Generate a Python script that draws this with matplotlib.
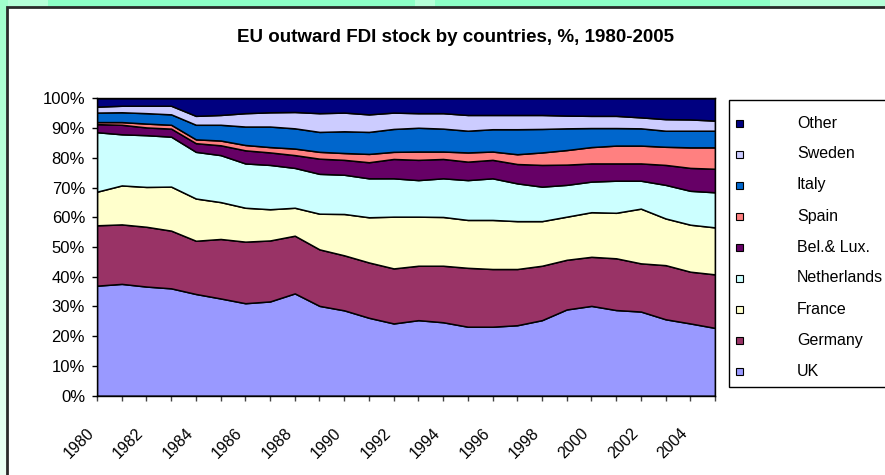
import numpy as np
import matplotlib
matplotlib.use("Agg")
import matplotlib.pyplot as plt
from matplotlib.patches import Rectangle

plt.rcParams["font.family"] = ["Liberation Sans", "DejaVu Sans"]

# --- Datos (% del stock de IED saliente de la UE) ---
years = list(range(1980, 2006))
uk = [37.0, 37.6, 36.7, 36.1, 34.2, 32.7, 31.1, 31.7, 34.4, 30.2, 28.7, 26.2, 24.3,
      25.4, 24.7, 23.2, 23.2, 23.7, 25.4, 29.0, 30.2, 28.8, 28.3, 25.7, 24.3, 22.8]
germany = [20.3, 20.0, 20.1, 19.4, 17.9, 20.0, 20.7, 20.5, 19.4, 19.0, 18.5, 18.6, 18.5,
           18.3, 19.0, 19.8, 19.4, 18.9, 18.3, 16.7, 16.5, 17.4, 16.2, 18.2, 17.4, 18.0]
france = [11.3, 13.1, 13.4, 14.8, 14.2, 12.4, 11.4, 10.5, 9.4, 12.0, 13.9, 15.2, 17.4,
          16.5, 16.4, 16.1, 16.5, 16.1, 15.0, 14.5, 15.0, 15.3, 18.4, 15.7, 15.8, 15.8]
netherlands = [20.0, 17.2, 17.4, 16.8, 15.7, 15.8, 14.9, 14.9, 13.4, 13.4, 13.2, 13.1, 12.9,
               12.3, 13.0, 13.4, 14.0, 12.7, 11.6, 10.7, 10.3, 10.8, 9.4, 11.3, 11.4, 11.8]
bel_lux = [2.7, 3.2, 2.6, 2.7, 2.9, 3.3, 4.4, 4.2, 4.3, 5.1, 5.0, 5.4, 6.5,
           6.8, 6.5, 6.2, 6.2, 6.5, 7.3, 6.8, 6.1, 5.8, 5.8, 6.7, 7.7, 7.9]
spain = [0.7, 0.9, 1.3, 1.3, 1.3, 1.6, 1.8, 1.8, 2.2, 2.3, 2.3, 2.8, 2.4,
         2.8, 2.5, 3.1, 2.8, 3.3, 4.2, 4.9, 5.5, 6.0, 6.0, 6.1, 6.9, 7.2]
italy = [3.2, 3.3, 3.5, 3.5, 4.9, 5.3, 6.2, 6.9, 6.8, 6.7, 7.3, 7.4, 7.7,
         8.0, 7.7, 7.3, 7.5, 8.4, 7.9, 7.3, 6.4, 5.9, 5.8, 5.4, 5.6, 5.6]
sweden = [2.0, 2.2, 2.5, 2.9, 3.0, 3.3, 4.5, 4.8, 5.5, 6.3, 6.3, 5.9, 5.5,
          4.9, 5.2, 5.3, 4.8, 4.8, 4.7, 4.3, 4.1, 4.1, 3.7, 3.9, 3.8, 3.4]
other = [2.8, 2.5, 2.5, 2.5, 5.9, 5.6, 5.0, 4.7, 4.6, 5.0, 4.8, 5.4, 4.8,
         5.0, 5.0, 5.6, 5.6, 5.6, 5.6, 5.8, 5.9, 5.9, 6.4, 7.0, 7.1, 7.5]

series = [uk, germany, france, netherlands, bel_lux, spain, italy, sweden, other]
labels = ["UK", "Germany", "France", "Netherlands", "Bel.& Lux.", "Spain", "Italy",
          "Sweden", "Other"]
colors = ["#9999FF", "#993366", "#FFFFCC", "#CCFFFF", "#660066", "#FF8080",
          "#0066CC", "#CCCCFF", "#000080"]

# 100% apilado
data = np.array(series, dtype=float)
data = data / data.sum(axis=0) * 100

W, H = 885, 475
fig = plt.figure(figsize=(W / 100, H / 100), dpi=100)
fig.patch.set_facecolor("#8CFFC6")

# --- fondo verde de la diapositiva ---
bg = fig.add_axes([0, 0, 1, 1], zorder=-5)
grad = np.ones((H, W, 3))
grad[:, :, :] = np.array([0x8C, 0xFF, 0xC6]) / 255
top_light = np.array([0xB5, 0xFF, 0xD8]) / 255
grad[:, :48] = top_light
grad[:, 770:] = top_light
grad[:, 415:435] = top_light
fade = np.linspace(0, 1, H)[:, None]
left = np.array([0xA0, 0xFF, 0xCC]) / 255 * (1 - fade) + np.array([0xEC, 0xFF, 0xF4]) / 255 * fade
grad[:, :8] = left[:, None, :]
bg.imshow(grad, aspect="auto", extent=[0, W, H, 0])
bg.set_xlim(0, W)
bg.set_ylim(H, 0)
bg.axis("off")
# área del gráfico (blanca)
bg.add_patch(Rectangle((7, 6.5), W, H, facecolor="white", edgecolor="#2a2a2a", linewidth=2))

# --- gráfico ---
ax = fig.add_axes([97 / W, 1 - 395.7 / H, (715 - 97) / W, (395.7 - 98.3) / H])
ax.stackplot(years, data, colors=colors, edgecolor="black", linewidth=1.1)
ax.set_xlim(1980, 2005)
ax.set_ylim(0, 100)
ax.set_yticks(range(0, 101, 10))
ax.set_yticklabels([f"{v}%" for v in range(0, 101, 10)], fontsize=12)
ax.set_xticks(years)
ax.set_xticklabels([str(y) if (y - 1980) % 2 == 0 and y < 2005 else "" for y in years],
                   fontsize=11.5, rotation=45, ha="right", va="top")
ax.tick_params(axis="y", direction="out", length=3.6, width=1, pad=5)
ax.tick_params(axis="x", direction="out", length=3.6, width=1, pad=18, color="#444444")
for s in ax.spines.values():
    s.set_color("black")
    s.set_linewidth(1)

fig.text(455 / W, 1 - 37 / H, "EU outward FDI stock by countries, %, 1980-2005",
         ha="center", va="center", fontsize=13.5, fontweight="bold")

# --- leyenda ---
lg_top, lg_bottom, lg_left = 100, 387, 729
bg.add_patch(Rectangle((lg_left, lg_top), 200, lg_bottom - lg_top, facecolor="white",
                       edgecolor="black", linewidth=1))
for i, (lab, col) in enumerate(zip(labels[::-1], colors[::-1])):
    yc = 123 + i * 31
    bg.add_patch(Rectangle((735.5, yc - 3.5), 7, 7, facecolor=col, edgecolor="black",
                           linewidth=0.8))
    bg.text(797, yc, lab, fontsize=11.5, va="center", ha="left")

fig.savefig("out.png", dpi=100, facecolor=fig.get_facecolor())
